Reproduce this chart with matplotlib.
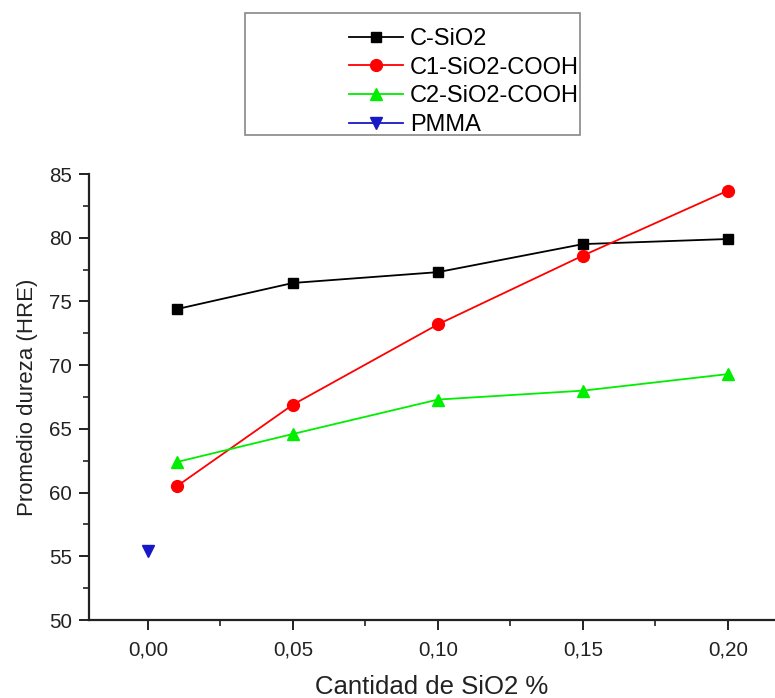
import matplotlib
matplotlib.use("Agg")
import matplotlib.pyplot as plt
from matplotlib.patches import Rectangle
from matplotlib.ticker import MultipleLocator, FixedLocator

plt.rcParams['font.family'] = ['Liberation Sans', 'DejaVu Sans']

# SiO2 content (%) and mean hardness (HRE)
x_sio2 = [0.01, 0.05, 0.10, 0.15, 0.20]
c_sio2 = [74.4, 76.45, 77.3, 79.5, 79.9]
c1_sio2_cooh = [60.5, 66.9, 73.2, 78.6, 83.7]
c2_sio2_cooh = [62.4, 64.6, 67.3, 68.0, 69.3]
x_pmma = [0.0]
pmma = [55.4]

x_ticks = [0.00, 0.05, 0.10, 0.15, 0.20]
x_tick_labels = ["0,00", "0,05", "0,10", "0,15", "0,20"]
y_ticks = [50, 55, 60, 65, 70, 75, 80, 85]
y_tick_labels = ["50", "55", "60", "65", "70", "75", "80", "85"]

fig = plt.figure(figsize=(7.75, 6.98), dpi=100)
ax = fig.add_axes([0.1148, 0.1117, 0.8852, 0.639])

lw = 1.3
h1, = ax.plot(x_sio2, c_sio2, color='black', lw=lw, marker='s', ms=7,
              label='C-SiO2')
h2, = ax.plot(x_sio2, c1_sio2_cooh, color='#FF0000', lw=lw, marker='o', ms=8.5,
              label='C1-SiO2-COOH')
h3, = ax.plot(x_sio2, c2_sio2_cooh, color='#00EE00', lw=lw, marker='^', ms=8,
              label='C2-SiO2-COOH')
h4, = ax.plot(x_pmma, pmma, color='#1818C8', lw=lw, marker='v', ms=8,
              label='PMMA')

ax.set_xlim(-0.0203, 0.2162)
ax.set_ylim(50, 85)
ax.xaxis.set_major_locator(FixedLocator(x_ticks))
ax.set_xticklabels(x_tick_labels)
ax.xaxis.set_minor_locator(MultipleLocator(0.025))
ax.yaxis.set_major_locator(FixedLocator(y_ticks))
ax.set_yticklabels(y_tick_labels)
ax.yaxis.set_minor_locator(MultipleLocator(2.5))

for side in ('top', 'right'):
    ax.spines[side].set_visible(False)
for side in ('left', 'bottom'):
    ax.spines[side].set_linewidth(1.6)
    ax.spines[side].set_color('#222222')

ax.tick_params(which='major', direction='out', length=7, width=1.4,
               labelsize=14.8, colors='#222222', pad=5)
ax.tick_params(which='minor', direction='out', length=4, width=1.2,
               colors='#222222')
ax.tick_params(axis='x', which='major', pad=8)

ax.set_xlabel('Cantidad de SiO2 %', fontsize=18.5, color='#222222', labelpad=11)
ax.set_ylabel('Promedio dureza (HRE)', fontsize=16, color='#222222', labelpad=8)

# legend frame drawn as a separate rectangle in figure pixels
W, H = 775, 698
fig.patches.append(Rectangle((245 / W, 1 - 135 / H), 335 / W, 122 / H,
                             transform=fig.transFigure, fill=False,
                             edgecolor='#888888', lw=1.2))
fig.legend(handles=[h1, h2, h3, h4], loc='upper right',
           bbox_to_anchor=(579 / W, 1 - 28 / H), frameon=False,
           fontsize=17, handlelength=2.3, handletextpad=0.3,
           labelspacing=0.28, borderpad=0, borderaxespad=0)

fig.savefig('out.png', dpi=100)
